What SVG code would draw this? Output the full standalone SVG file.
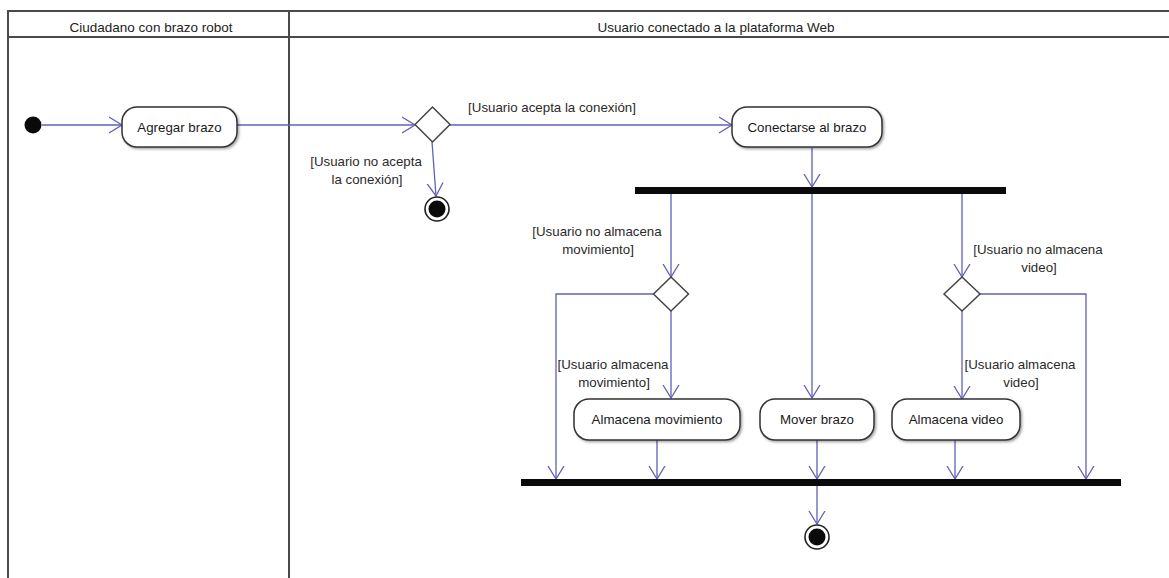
<svg xmlns="http://www.w3.org/2000/svg" width="1169" height="578" viewBox="0 0 1169 578">
<style>
.frame{stroke:#4a4a4a;stroke-width:2;fill:none}
.hdr{font-family:"Liberation Sans",Arial,sans-serif;font-size:13.5px;fill:#222;text-anchor:middle}
.act{fill:#fff;stroke:#333;stroke-width:1.5}
.txt{font-family:"Liberation Sans",Arial,sans-serif;font-size:13.3px;fill:#1a1a1a;text-anchor:middle}
.lbl{font-family:"Liberation Sans",Arial,sans-serif;font-size:13.3px;fill:#2a2a2a;text-anchor:middle}
.dec{fill:#fff;stroke:#444;stroke-width:1.5}
.bar{fill:#0a0a0a}
.edge{stroke:#6060b8;stroke-width:1.3;fill:none;marker-end:url(#arr)}
</style>
<defs>
<marker id="arr" markerUnits="userSpaceOnUse" markerWidth="15" markerHeight="18" viewBox="0 0 15 18" refX="13" refY="9" orient="auto">
<path d="M0,1 L13,9 L0,17" fill="none" stroke="#6060b8" stroke-width="1.3"/>
</marker>
<filter id="sh" x="-10%" y="-10%" width="130%" height="140%">
<feDropShadow dx="1.5" dy="1.5" stdDeviation="1" flood-color="#000" flood-opacity="0.35"/>
</filter>
</defs>
<rect width="1169" height="578" fill="#fff"/>
<g id="lanes">
<line class="frame" x1="8" y1="11" x2="1169" y2="11"/>
<line class="frame" x1="8" y1="37" x2="1169" y2="37"/>
<line class="frame" x1="8" y1="10" x2="8" y2="578"/>
<line class="frame" x1="289" y1="10" x2="289" y2="578"/>
<text class="hdr" x="151" y="32">Ciudadano con brazo robot</text>
<text class="hdr" x="716" y="32">Usuario conectado a la plataforma Web</text>
</g>
<g id="connectors">
<line class="edge" x1="42" y1="125" x2="122" y2="125"/>
<line class="edge" x1="237" y1="125" x2="415" y2="125"/>
<line class="edge" x1="450" y1="125" x2="732" y2="125"/>
<line class="edge" x1="432" y1="142" x2="436" y2="196"/>
<line class="edge" x1="812" y1="148" x2="812" y2="187"/>
<line class="edge" x1="671" y1="194" x2="671" y2="277"/>
<line class="edge" x1="812" y1="194" x2="812" y2="398"/>
<line class="edge" x1="962" y1="194" x2="962" y2="277"/>
<polyline class="edge" points="653,294 556,294 556,479"/>
<line class="edge" x1="671" y1="311" x2="671" y2="398"/>
<polyline class="edge" points="980,294 1086,294 1086,479"/>
<line class="edge" x1="962" y1="311" x2="962" y2="399"/>
<line class="edge" x1="657" y1="440" x2="657" y2="479"/>
<line class="edge" x1="817" y1="440" x2="817" y2="479"/>
<line class="edge" x1="955" y1="440" x2="955" y2="479"/>
<line class="edge" x1="817" y1="486" x2="817" y2="524"/>
<text class="lbl" x="552" y="112">[Usuario acepta la conexión]</text>
<text class="lbl" x="366" y="166">[Usuario no acepta</text>
<text class="lbl" x="367" y="184">la conexión]</text>
<text class="lbl" x="597" y="236">[Usuario no almacena</text>
<text class="lbl" x="598" y="254">movimiento]</text>
<text class="lbl" x="613" y="369">[Usuario almacena</text>
<text class="lbl" x="614" y="387">movimiento]</text>
<text class="lbl" x="1038" y="254">[Usuario no almacena</text>
<text class="lbl" x="1039" y="272">video]</text>
<text class="lbl" x="1020" y="369">[Usuario almacena</text>
<text class="lbl" x="1021" y="387">video]</text>
</g>
<g id="start"><circle cx="33" cy="125" r="8.5" fill="#0a0a0a"/></g>
<g id="agregar"><rect class="act" filter="url(#sh)" x="122" y="107" width="115" height="40" rx="15"/><text class="txt" x="179.5" y="131.5">Agregar brazo</text></g>
<g id="dec1"><polygon class="dec" points="432.5,107 450,124.5 432.5,142 415,124.5"/></g>
<g id="end1"><circle cx="437" cy="209" r="12" fill="#fff" stroke="#222" stroke-width="1.6"/><circle cx="437" cy="209" r="8.5" fill="#0a0a0a"/></g>
<g id="conectarse"><rect class="act" filter="url(#sh)" x="732" y="107" width="150" height="40" rx="15"/><text class="txt" x="807" y="131.5">Conectarse al brazo</text></g>
<g id="fork"><rect class="bar" x="635" y="187" width="371" height="7"/></g>
<g id="dec2"><polygon class="dec" points="671,277 688.5,294 671,311 653.5,294"/></g>
<g id="dec3"><polygon class="dec" points="962,277 980,294 962,311 944,294"/></g>
<g id="almMov"><rect class="act" filter="url(#sh)" x="574" y="399" width="166" height="41" rx="15"/><text class="txt" x="657" y="424">Almacena movimiento</text></g>
<g id="mover"><rect class="act" filter="url(#sh)" x="760" y="399" width="114" height="41" rx="15"/><text class="txt" x="817" y="424">Mover brazo</text></g>
<g id="almVid"><rect class="act" filter="url(#sh)" x="892" y="399" width="128" height="41" rx="15"/><text class="txt" x="956" y="424">Almacena video</text></g>
<g id="join"><rect class="bar" x="521" y="479" width="600" height="7"/></g>
<g id="end2"><circle cx="817" cy="537" r="12" fill="#fff" stroke="#222" stroke-width="1.6"/><circle cx="817" cy="537" r="8.5" fill="#0a0a0a"/></g>
</svg>
